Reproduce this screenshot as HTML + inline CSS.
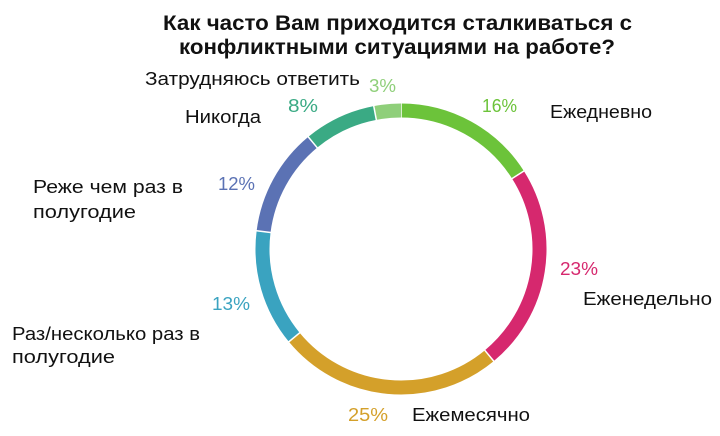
<!DOCTYPE html>
<html><head><meta charset="utf-8"><style>
html,body{margin:0;padding:0;background:#fff;}
svg{display:block;font-family:"Liberation Sans",sans-serif;}
</style></head><body>
<svg id="chart" width="720" height="436" viewBox="0 0 720 436">
<g font-weight="bold" font-size="21" fill="#111">
<text x="163" y="30" textLength="469" lengthAdjust="spacingAndGlyphs">Как часто Вам приходится сталкиваться с</text>
<text x="179" y="54" textLength="436" lengthAdjust="spacingAndGlyphs">конфликтными ситуациями на работе?</text>
</g>
<g id="ring"></g>
<g id="labels" font-size="18"></g>
</svg>
<script>
const categories = ["Ежедневно","Еженедельно","Ежемесячно","Раз/несколько раз в полугодие","Реже чем раз в полугодие","Никогда","Затрудняюсь ответить"];
const values = [16,23,25,13,12,8,3];
const colors = ["#6cc33a","#d6286e","#d4a02a","#3aa3c0","#5b72b4","#3aaa84","#8fcf7a"];
const pctLabels = ["16%","23%","25%","13%","12%","8%","3%"];
const cx=401, cy=249, r=138.5, w=14;
const NS="http://www.w3.org/2000/svg";
const ring=document.getElementById('ring');
const total=values.reduce((a,b)=>a+b,0);
let acc=0;
function pt(a,rad){return [cx+rad*Math.sin(a), cy-rad*Math.cos(a)];}
values.forEach((v,i)=>{
  const a0=acc/total*2*Math.PI; acc+=v; const a1=acc/total*2*Math.PI;
  const [x0,y0]=pt(a0,r),[x1,y1]=pt(a1,r);
  const p=document.createElementNS(NS,'path');
  p.setAttribute('d',`M${x0},${y0} A${r},${r} 0 ${a1-a0>Math.PI?1:0} 1 ${x1},${y1}`);
  p.setAttribute('fill','none');p.setAttribute('stroke',colors[i]);p.setAttribute('stroke-width',w);
  
  
  ring.appendChild(p);
  const [sx0,sy0]=pt(a0,r-w/2-1),[sx1,sy1]=pt(a0,r+w/2+1);
  const l=document.createElementNS(NS,'line');
  l.setAttribute('x1',sx0);l.setAttribute('y1',sy0);l.setAttribute('x2',sx1);l.setAttribute('y2',sy1);
  l.setAttribute('stroke','#fff');l.setAttribute('stroke-width','1.5');
  
  
  ring.appendChild(l);
});
const pctPos=[[482,112,35],[560,275,38],[348,421,40],[212,310,38],[218,190,37],[288,112,30],[369,92,27]];
const catLines=[
 [[550,118,102,"Ежедневно"]],
 [[583,305,129,"Еженедельно"]],
 [[412,421,118,"Ежемесячно"]],
 [[12,340,188,"Раз/несколько раз в"],[12,363,103,"полугодие"]],
 [[33,193,150,"Реже чем раз в"],[33,218,103,"полугодие"]],
 [[185,123,76,"Никогда"]],
 [[145,85,215,"Затрудняюсь ответить"]]
];
const lab=document.getElementById('labels');
pctLabels.forEach((t,i)=>{
  const e=document.createElementNS(NS,'text');
  e.setAttribute('x',pctPos[i][0]);e.setAttribute('y',pctPos[i][1]);
  e.setAttribute('textLength',pctPos[i][2]);e.setAttribute('lengthAdjust','spacingAndGlyphs');
  e.setAttribute('fill',colors[i]);e.textContent=t;
  
  
  lab.appendChild(e);
  catLines[i].forEach(c=>{
    const q=document.createElementNS(NS,'text');
    q.setAttribute('x',c[0]);q.setAttribute('y',c[1]);
    q.setAttribute('textLength',c[2]);q.setAttribute('lengthAdjust','spacingAndGlyphs');
    q.setAttribute('fill','#111');q.textContent=c[3];
    
    
    lab.appendChild(q);
  });
});
</script>
</body></html>
